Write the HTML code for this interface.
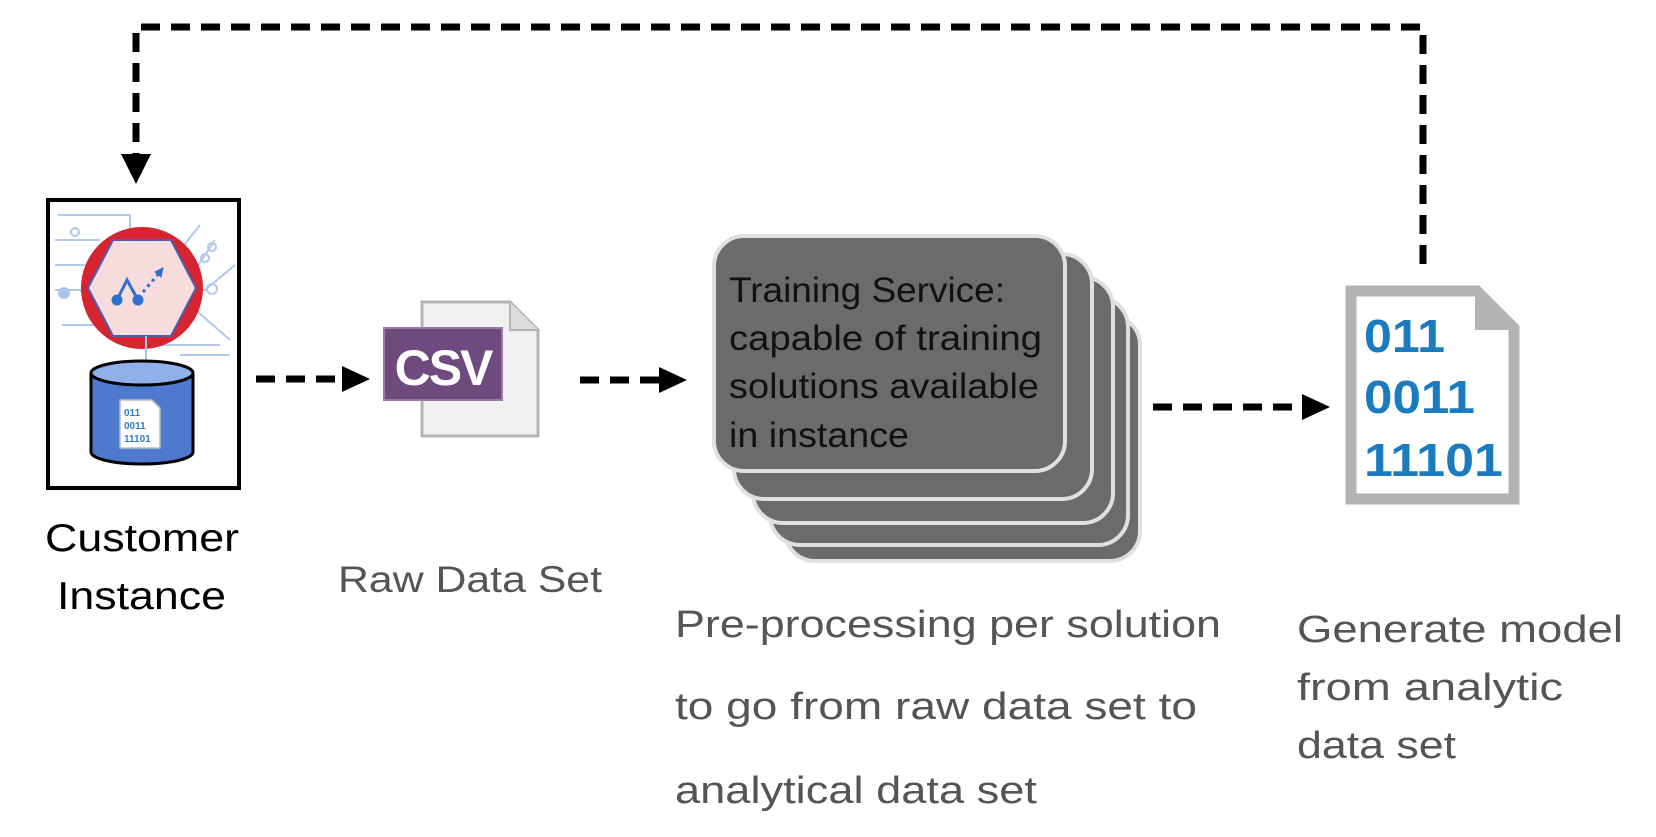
<!DOCTYPE html>
<html><head><meta charset="utf-8"><style>
html,body{margin:0;padding:0;background:#fff;}
svg{display:block;}
text{font-family:"Liberation Sans","DejaVu Sans",sans-serif;}
</style></head><body>
<svg width="1656" height="837" viewBox="0 0 1656 837" xmlns="http://www.w3.org/2000/svg">
<!-- feedback loop -->
<polyline points="1423,264 1423,27 136,27 136,158" fill="none" stroke="#000" stroke-width="7" stroke-dasharray="19,11"/>
<polygon points="121,154 151,154 136,184" fill="#000"/>

<!-- customer instance box -->
<rect x="48" y="200" width="191" height="288" fill="#fff" stroke="#000" stroke-width="4"/>
<g stroke="#a9c4ea" stroke-width="2" fill="none" opacity="0.9">
<path d="M58,215 H130 V232"/><path d="M55,240 H100"/><circle cx="75" cy="232" r="4"/>
<path d="M55,265 H85"/><circle cx="93" cy="265" r="5"/><path d="M55,290 H80 L95,305"/>
<path d="M62,325 H110"/><path d="M200,225 L180,250"/><path d="M215,240 L195,270"/>
<circle cx="212" cy="247" r="4"/><circle cx="205" cy="258" r="4"/>
<path d="M235,265 L205,290 H195"/><circle cx="212" cy="289" r="5"/>
<path d="M190,305 L230,340"/><path d="M155,345 H220"/><path d="M180,355 H230"/>
</g>
<circle cx="64" cy="293" r="6" fill="#a9c4ea"/>
<circle cx="142" cy="288" r="61" fill="#d62430"/>
<polygon points="113,240 171,240 196,288 171,336 113,336 88,288" fill="#f6dcdc" stroke="#4a5fb0" stroke-width="2"/>
<g fill="#2f6fd0" stroke="#2f6fd0" stroke-width="3">
<polyline points="117,300 127,280 138,300" fill="none"/>
<circle cx="117" cy="300" r="4"/><circle cx="138" cy="300" r="4"/>
<line x1="143" y1="292" x2="160" y2="272" stroke-dasharray="3,4"/>
<polygon points="163,268 155,272 161,277" stroke-width="1"/>
</g>
<line x1="146" y1="336" x2="146" y2="360" stroke="#a9c4ea" stroke-width="2"/>
<!-- cylinder -->
<path d="M91,373 V452 A51,12 0 0 0 193,452 V373" fill="#4f79cf" stroke="#000" stroke-width="3"/>
<ellipse cx="142" cy="373" rx="51" ry="12" fill="#8fb0e8" stroke="#000" stroke-width="3"/>
<path d="M120,400 H152 L160,408 V448 H120 Z" fill="#fff" stroke="#bbb" stroke-width="1.5"/>
<text x="124" y="416" font-size="10" font-weight="bold" fill="#2f7cc2">011</text>
<text x="124" y="429" font-size="10" font-weight="bold" fill="#2f7cc2">0011</text>
<text x="124" y="442" font-size="10" font-weight="bold" fill="#2f7cc2">11101</text>

<text x="45" y="551" font-size="39" fill="#000" textLength="194" lengthAdjust="spacingAndGlyphs">Customer</text>
<text x="57" y="609" font-size="39" fill="#000" textLength="169" lengthAdjust="spacingAndGlyphs">Instance</text>

<!-- arrow 1 -->
<line x1="256" y1="379" x2="345" y2="379" stroke="#000" stroke-width="7" stroke-dasharray="19,11"/>
<polygon points="342,366 370,379 342,392" fill="#000"/>

<!-- csv doc -->
<path d="M422,302 H510 L538,330 V436 H422 Z" fill="#f1f1f1" stroke="#b5b5b5" stroke-width="3"/>
<path d="M510,302 V330 H538" fill="#ddd" stroke="#b5b5b5" stroke-width="2"/>
<rect x="384" y="328" width="118" height="72" fill="#6e4a7e" stroke="#9b7aa8" stroke-width="2"/>
<text x="443" y="385" font-size="50" font-weight="bold" fill="#fff" text-anchor="middle" letter-spacing="-2">CSV</text>
<text x="338" y="592" font-size="37" fill="#555" textLength="264" lengthAdjust="spacingAndGlyphs">Raw Data Set</text>

<!-- arrow 2 -->
<line x1="580" y1="380" x2="662" y2="380" stroke="#000" stroke-width="7" stroke-dasharray="19,11"/>
<polygon points="659,367 687,380 659,393" fill="#000"/>

<!-- stack -->
<g fill="#6b6b6b" stroke="#e0e0e0" stroke-width="4">
<rect x="785" y="315" width="355" height="246" rx="30"/>
<rect x="770" y="297" width="358" height="248" rx="30"/>
<rect x="753" y="277" width="360" height="246" rx="30"/>
<rect x="734" y="254" width="358" height="245" rx="30"/>
<rect x="714" y="236" width="351" height="235" rx="30"/>
</g>
<g font-size="35" fill="#111">
<text x="729" y="302" textLength="276" lengthAdjust="spacingAndGlyphs">Training Service:</text>
<text x="729" y="350" textLength="313" lengthAdjust="spacingAndGlyphs">capable of training</text>
<text x="729" y="398" textLength="310" lengthAdjust="spacingAndGlyphs">solutions available</text>
<text x="729" y="447" textLength="180" lengthAdjust="spacingAndGlyphs">in instance</text>
</g>
<g font-size="38" fill="#555">
<text x="675" y="637" textLength="546" lengthAdjust="spacingAndGlyphs">Pre-processing per solution</text>
<text x="675" y="719" textLength="522" lengthAdjust="spacingAndGlyphs">to go from raw data set to</text>
<text x="675" y="803" textLength="362" lengthAdjust="spacingAndGlyphs">analytical data set</text>
</g>

<!-- arrow 3 -->
<line x1="1153" y1="407" x2="1305" y2="407" stroke="#000" stroke-width="7" stroke-dasharray="19,11"/>
<polygon points="1302,394 1330,407 1302,420" fill="#000"/>

<!-- binary doc -->
<path d="M1351,291 H1477 L1514,328 V499 H1351 Z" fill="#fff" stroke="#b3b3b3" stroke-width="11"/>
<path d="M1477,291 V328 H1514" fill="#b3b3b3" stroke="#b3b3b3" stroke-width="4"/>
<g font-size="46" font-weight="bold" fill="#1a7bbf">
<text x="1364" y="352" textLength="81" lengthAdjust="spacingAndGlyphs">011</text>
<text x="1364" y="413" textLength="111" lengthAdjust="spacingAndGlyphs">0011</text>
<text x="1364" y="476" textLength="139" lengthAdjust="spacingAndGlyphs">11101</text>
</g>
<g font-size="38" fill="#555">
<text x="1297" y="642" textLength="326" lengthAdjust="spacingAndGlyphs">Generate model</text>
<text x="1297" y="700" textLength="266" lengthAdjust="spacingAndGlyphs">from analytic</text>
<text x="1297" y="758" textLength="159" lengthAdjust="spacingAndGlyphs">data set</text>
</g>
</svg>
</body></html>
